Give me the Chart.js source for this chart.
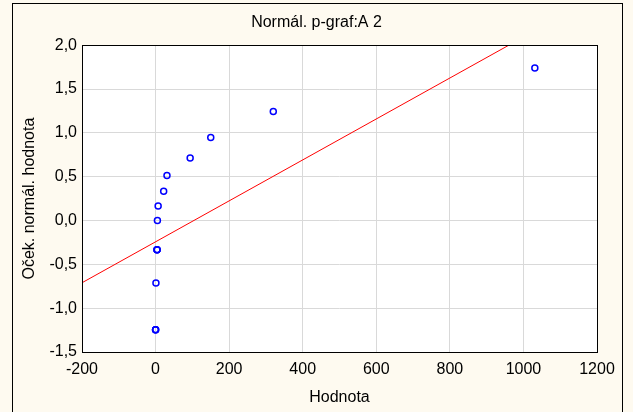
<!DOCTYPE html>
<html>
<head>
<meta charset="utf-8">
<script src="https://cdn.jsdelivr.net/npm/chart.js@4"></script>
<style>
  html, body { margin: 0; padding: 0; background: #fefaf0; }
  #wrap { width: 633px; height: 412px; }
</style>
</head>
<body>
<div id="wrap"><canvas id="chart" width="633" height="412"></canvas></div>
<script>
// values
const hodnota = [0, 0, 0, 1, 4, 4, 4, 5, 7, 22, 31, 94, 150, 320, 1031];
const ocekNormal = [-1.245, -1.245, -1.245, -0.714, -0.334, -0.334, -0.334, 0, 0.165, 0.334, 0.514, 0.714, 0.948, 1.245, 1.74];
const lineX = [-200, 1200];
const lineY = [-0.71, 2.56];

const fnt = { family: 'Arial, "Liberation Sans", sans-serif', size: 16 };

const frame = {
  id: 'frame',
  beforeDraw(chart) {
    const ctx = chart.ctx, a = chart.chartArea;
    ctx.save();
    ctx.fillStyle = '#fefaf0';
    ctx.fillRect(0, 0, chart.width, chart.height);
    ctx.strokeStyle = '#000';
    ctx.lineWidth = 1;
    ctx.strokeRect(12.5, 3.5, 610, 420);
    ctx.fillStyle = '#fff';
    ctx.fillRect(a.left, a.top, a.right - a.left, a.bottom - a.top);
    ctx.restore();
  },
  afterDraw(chart) {
    const ctx = chart.ctx, a = chart.chartArea;
    ctx.save();
    ctx.strokeStyle = '#000';
    ctx.lineWidth = 1;
    ctx.strokeRect(Math.round(a.left) + 0.5, Math.round(a.top) + 0.5,
      Math.round(a.right - a.left), Math.round(a.bottom - a.top));
    ctx.restore();
  }
};

new Chart(document.getElementById('chart').getContext('2d'), {
  type: 'scatter',
  data: {
    datasets: [
      {
        data: hodnota.map((x, i) => ({ x: x, y: ocekNormal[i] })),
        borderColor: '#0000ff',
        backgroundColor: 'rgba(0,0,0,0)',
        pointRadius: 3,
        pointBorderWidth: 1.5,
        showLine: false
      },
      {
        data: lineX.map((x, i) => ({ x: x, y: lineY[i] })),
        borderColor: '#ff0000',
        borderWidth: 1,
        pointRadius: 0,
        showLine: true
      }
    ]
  },
  options: {
    responsive: false,
    animation: false,
    layout: { padding: 0 },
    plugins: {
      legend: { display: false },
      tooltip: { enabled: false },
      title: {
        display: true,
        text: 'Normál. p-graf:A 2',
        color: '#000',
        font: Object.assign({ weight: 'normal' }, fnt),
        padding: { top: 13, bottom: 13 }
      }
    },
    scales: {
      x: {
        type: 'linear',
        min: -200, max: 1200,
        afterFit(s) { s.height = 60; },
        border: { display: false },
        grid: { color: '#d9d9d9', drawTicks: false },
        ticks: { stepSize: 200, color: '#000', font: fnt, padding: 8, maxRotation: 0, callback: v => String(v) },
        title: { display: true, text: 'Hodnota', color: '#000', font: fnt, padding: { top: 0, bottom: 5 } }
      },
      y: {
        type: 'linear',
        min: -1.5, max: 2,
        afterFit(s) { s.width = 82; },
        border: { display: false },
        grid: { color: '#d9d9d9', drawTicks: false },
        ticks: {
          stepSize: 0.5, color: '#000', font: fnt, padding: 5,
          callback: v => v.toFixed(1).replace('.', ',')
        },
        title: { display: true, text: 'Oček. normál. hodnota', color: '#000', font: fnt, padding: { top: 20, bottom: 0 } }
      },
      yRight: {
        type: 'linear',
        position: 'right',
        min: -1.5, max: 2,
        afterFit(s) { s.width = 36; },
        border: { display: false },
        grid: { display: false },
        ticks: { display: false }
      }
    }
  },
  plugins: [frame]
});
</script>
</body>
</html>
